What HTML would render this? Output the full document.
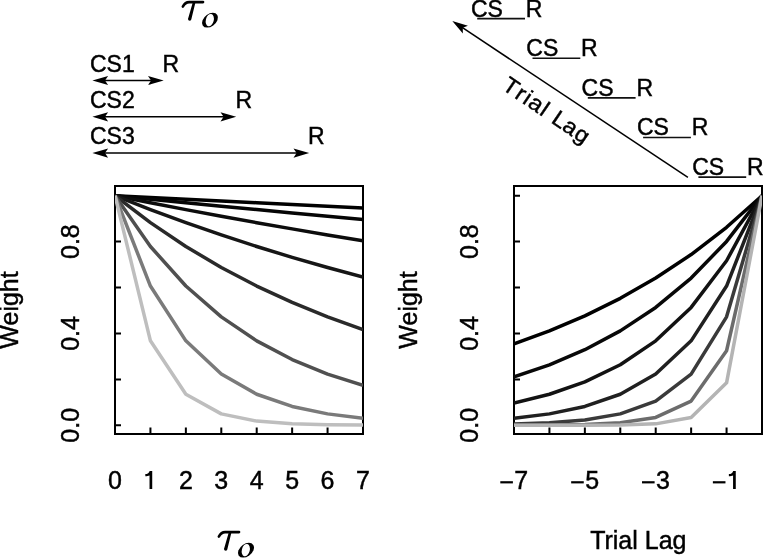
<!DOCTYPE html>
<html><head><meta charset="utf-8"><style>
html,body{margin:0;padding:0;background:#fff;}
body{width:763px;height:558px;overflow:hidden;font-family:"Liberation Sans",sans-serif;}
svg{display:block;will-change:transform;}
</style></head><body>
<svg width="763" height="558" viewBox="0 0 763 558">
<rect width="100%" height="100%" fill="#fff"/>
<rect x="115" y="186" width="248" height="248" fill="none" stroke="#000" stroke-width="2"/>
<path d="M115.00 434 V427.6 M150.43 434 V427.6 M185.86 434 V427.6 M221.29 434 V427.6 M256.71 434 V427.6 M292.14 434 V427.6 M327.57 434 V427.6 M363.00 434 V427.6 M115 425.31 H121.0 M115 379.39 H121.0 M115 333.46 H121.0 M115 287.54 H121.0 M115 241.61 H121.0 M115 195.69 H121.0" stroke="#000" stroke-width="2" fill="none"/>
<rect x="514" y="186" width="248" height="248" fill="none" stroke="#000" stroke-width="2"/>
<path d="M514.00 434 V427.6 M549.43 434 V427.6 M584.86 434 V427.6 M620.29 434 V427.6 M655.71 434 V427.6 M691.14 434 V427.6 M726.57 434 V427.6 M762.00 434 V427.6 M514 425.31 H520.0 M514 379.39 H520.0 M514 333.46 H520.0 M514 287.54 H520.0 M514 241.61 H520.0 M514 195.69 H520.0" stroke="#000" stroke-width="2" fill="none"/>
<defs><clipPath id="cl"><rect x="115" y="186" width="248" height="248"/></clipPath><clipPath id="cr"><rect x="514" y="186" width="248" height="248"/></clipPath></defs>
<g clip-path="url(#cl)">
<polyline points="115.00,195.69 150.43,197.47 185.86,199.25 221.29,201.00 256.71,202.75 292.14,204.48 327.57,206.20 363.00,207.91" fill="none" stroke="#000000" stroke-width="3.5" stroke-linejoin="round"/>
<polyline points="115.00,195.69 150.43,199.25 185.86,202.75 221.29,206.20 256.71,209.60 292.14,212.94 327.57,216.23 363.00,219.48" fill="none" stroke="#050505" stroke-width="3.5" stroke-linejoin="round"/>
<polyline points="115.00,195.69 150.43,202.75 185.86,209.60 221.29,216.23 256.71,222.67 292.14,228.90 327.57,234.95 363.00,240.80" fill="none" stroke="#0c0c0c" stroke-width="3.5" stroke-linejoin="round"/>
<polyline points="115.00,195.69 150.43,209.60 185.86,222.67 221.29,234.95 256.71,246.48 292.14,257.31 327.57,267.49 363.00,277.05" fill="none" stroke="#161616" stroke-width="3.5" stroke-linejoin="round"/>
<polyline points="115.00,195.69 150.43,222.67 185.86,246.48 221.29,267.49 256.71,286.04 292.14,302.40 327.57,316.85 363.00,329.59" fill="none" stroke="#2a2a2a" stroke-width="3.5" stroke-linejoin="round"/>
<polyline points="115.00,195.69 150.43,246.48 185.86,286.04 221.29,316.85 256.71,340.84 292.14,359.52 327.57,374.08 363.00,385.41" fill="none" stroke="#505050" stroke-width="3.5" stroke-linejoin="round"/>
<polyline points="115.00,195.69 150.43,286.04 185.86,340.84 221.29,374.08 256.71,394.24 292.14,406.47 327.57,413.88 363.00,418.38" fill="none" stroke="#7a7a7a" stroke-width="3.5" stroke-linejoin="round"/>
<polyline points="115.00,195.69 150.43,340.84 185.86,394.24 221.29,413.88 256.71,421.11 292.14,423.77 327.57,424.75 363.00,425.11" fill="none" stroke="#bebebe" stroke-width="3.5" stroke-linejoin="round"/>
</g>
<g clip-path="url(#cr)">
<polyline points="514.00,343.91 549.43,330.91 584.86,315.84 620.29,298.35 655.71,278.08 691.14,254.57 726.57,227.30 762.00,195.69" fill="none" stroke="#000000" stroke-width="3.5" stroke-linejoin="round"/>
<polyline points="514.00,376.85 549.43,364.79 584.86,349.72 620.29,330.91 655.71,307.42 691.14,278.08 726.57,241.44 762.00,195.69" fill="none" stroke="#080808" stroke-width="3.5" stroke-linejoin="round"/>
<polyline points="514.00,403.05 549.43,394.24 584.86,381.94 620.29,364.79 655.71,340.84 691.14,307.42 726.57,260.78 762.00,195.69" fill="none" stroke="#121212" stroke-width="3.5" stroke-linejoin="round"/>
<polyline points="514.00,418.38 549.43,413.88 584.86,406.47 620.29,394.24 655.71,374.08 691.14,340.84 726.57,286.04 762.00,195.69" fill="none" stroke="#202020" stroke-width="3.5" stroke-linejoin="round"/>
<polyline points="514.00,424.11 549.43,422.76 584.86,419.91 620.29,413.88 655.71,401.11 691.14,374.08 726.57,316.85 762.00,195.69" fill="none" stroke="#3a3a3a" stroke-width="3.5" stroke-linejoin="round"/>
<polyline points="514.00,425.23 549.43,425.05 584.86,424.49 620.29,422.76 655.71,417.46 691.14,401.11 726.57,350.76 762.00,195.69" fill="none" stroke="#6c6c6c" stroke-width="3.5" stroke-linejoin="round"/>
<polyline points="514.00,425.31 549.43,425.31 584.86,425.27 620.29,425.05 655.71,423.86 691.14,417.46 726.57,382.84 762.00,195.69" fill="none" stroke="#b4b4b4" stroke-width="3.5" stroke-linejoin="round"/>
</g>
<text x="115.00" y="489" font-family="Liberation Sans, sans-serif" stroke="#000" stroke-width="0.45" font-size="25" text-anchor="middle">0</text>
<path d="M145.33 474.0 C147.53 474.0 149.23 472.8 149.63 470.9 L152.23 470.9 L152.23 488.9 L149.53 488.9 L149.53 475.6 C148.43 476.0 146.83 476.3 145.33 476.3 Z" fill="#000"/>
<text x="185.86" y="489" font-family="Liberation Sans, sans-serif" stroke="#000" stroke-width="0.45" font-size="25" text-anchor="middle">2</text>
<text x="221.29" y="489" font-family="Liberation Sans, sans-serif" stroke="#000" stroke-width="0.45" font-size="25" text-anchor="middle">3</text>
<text x="256.71" y="489" font-family="Liberation Sans, sans-serif" stroke="#000" stroke-width="0.45" font-size="25" text-anchor="middle">4</text>
<text x="292.14" y="489" font-family="Liberation Sans, sans-serif" stroke="#000" stroke-width="0.45" font-size="25" text-anchor="middle">5</text>
<text x="327.57" y="489" font-family="Liberation Sans, sans-serif" stroke="#000" stroke-width="0.45" font-size="25" text-anchor="middle">6</text>
<text x="363.00" y="489" font-family="Liberation Sans, sans-serif" stroke="#000" stroke-width="0.45" font-size="25" text-anchor="middle">7</text>
<rect x="500.30" y="481.2" width="12.6" height="2.2" fill="#000"/>
<text x="521.30" y="489" font-family="Liberation Sans, sans-serif" stroke="#000" stroke-width="0.45" font-size="25" text-anchor="middle">7</text>
<rect x="571.16" y="481.2" width="12.6" height="2.2" fill="#000"/>
<text x="592.16" y="489" font-family="Liberation Sans, sans-serif" stroke="#000" stroke-width="0.45" font-size="25" text-anchor="middle">5</text>
<rect x="642.01" y="481.2" width="12.6" height="2.2" fill="#000"/>
<text x="663.01" y="489" font-family="Liberation Sans, sans-serif" stroke="#000" stroke-width="0.45" font-size="25" text-anchor="middle">3</text>
<rect x="712.87" y="481.2" width="12.6" height="2.2" fill="#000"/>
<path d="M728.87 474.0 C731.07 474.0 732.77 472.8 733.17 470.9 L735.77 470.9 L735.77 488.9 L733.07 488.9 L733.07 475.6 C731.97 476.0 730.37 476.3 728.87 476.3 Z" fill="#000"/>
<text transform="translate(79.4,425.31) rotate(-90)" font-family="Liberation Sans, sans-serif" stroke="#000" stroke-width="0.45" font-size="25" text-anchor="middle">0.0</text>
<text transform="translate(79.4,333.46) rotate(-90)" font-family="Liberation Sans, sans-serif" stroke="#000" stroke-width="0.45" font-size="25" text-anchor="middle">0.4</text>
<text transform="translate(79.4,241.61) rotate(-90)" font-family="Liberation Sans, sans-serif" stroke="#000" stroke-width="0.45" font-size="25" text-anchor="middle">0.8</text>
<text transform="translate(17.9,310) rotate(-90)" font-family="Liberation Sans, sans-serif" stroke="#000" stroke-width="0.45" font-size="25" text-anchor="middle">Weight</text>
<text transform="translate(478.4,425.31) rotate(-90)" font-family="Liberation Sans, sans-serif" stroke="#000" stroke-width="0.45" font-size="25" text-anchor="middle">0.0</text>
<text transform="translate(478.4,333.46) rotate(-90)" font-family="Liberation Sans, sans-serif" stroke="#000" stroke-width="0.45" font-size="25" text-anchor="middle">0.4</text>
<text transform="translate(478.4,241.61) rotate(-90)" font-family="Liberation Sans, sans-serif" stroke="#000" stroke-width="0.45" font-size="25" text-anchor="middle">0.8</text>
<text transform="translate(416.9,310) rotate(-90)" font-family="Liberation Sans, sans-serif" stroke="#000" stroke-width="0.45" font-size="25" text-anchor="middle">Weight</text>
<text x="638.3" y="549.3" font-family="Liberation Sans, sans-serif" stroke="#000" stroke-width="0.45" font-size="25" text-anchor="middle">Trial Lag</text>
<g transform="translate(0,0)"><path d="M182.9 6.5 C184 4.3 185.8 2.1 189.2 2.1 L203.0 2.1" fill="none" stroke="#000" stroke-width="2.7" stroke-linecap="round"/><path d="M192.6 3.0 L195.3 3.0 L191.4 19.0 A1.7 1.7 0 0 1 188.0 19.0 Z" fill="#000"/><g transform="translate(210,20.15) skewX(-21)"><circle r="7.45" fill="#000"/></g><ellipse cx="0" cy="0" rx="6.3" ry="3.95" transform="translate(209.8,20.1) rotate(-76)" fill="#fff"/></g>
<g transform="translate(36,530)"><path d="M182.9 6.5 C184 4.3 185.8 2.1 189.2 2.1 L203.0 2.1" fill="none" stroke="#000" stroke-width="2.7" stroke-linecap="round"/><path d="M192.6 3.0 L195.3 3.0 L191.4 19.0 A1.7 1.7 0 0 1 188.0 19.0 Z" fill="#000"/><g transform="translate(210,20.15) skewX(-21)"><circle r="7.45" fill="#000"/></g><ellipse cx="0" cy="0" rx="6.3" ry="3.95" transform="translate(209.8,20.1) rotate(-76)" fill="#fff"/></g>
<text x="90.0" y="71.7" font-family="Liberation Sans, sans-serif" stroke="#000" stroke-width="0.45" font-size="23">CS1</text>
<text x="162.5" y="71.7" font-family="Liberation Sans, sans-serif" stroke="#000" stroke-width="0.45" font-size="23">R</text>
<line x1="100" y1="80.5" x2="155.7" y2="80.5" stroke="#000" stroke-width="1.5"/>
<polygon points="92.40,80.50 108.10,85.10 105.00,80.50 108.10,75.90" fill="#000"/>
<polygon points="163.70,80.50 148.00,75.90 151.10,80.50 148.00,85.10" fill="#000"/>
<text x="90.0" y="107.9" font-family="Liberation Sans, sans-serif" stroke="#000" stroke-width="0.45" font-size="23">CS2</text>
<text x="235.4" y="107.9" font-family="Liberation Sans, sans-serif" stroke="#000" stroke-width="0.45" font-size="23">R</text>
<line x1="100" y1="116.8" x2="228.2" y2="116.8" stroke="#000" stroke-width="1.5"/>
<polygon points="92.40,116.80 108.10,121.40 105.00,116.80 108.10,112.20" fill="#000"/>
<polygon points="236.20,116.80 220.50,112.20 223.60,116.80 220.50,121.40" fill="#000"/>
<text x="90.0" y="144.0" font-family="Liberation Sans, sans-serif" stroke="#000" stroke-width="0.45" font-size="23">CS3</text>
<text x="307.9" y="144.0" font-family="Liberation Sans, sans-serif" stroke="#000" stroke-width="0.45" font-size="23">R</text>
<line x1="100" y1="153.1" x2="301.2" y2="153.1" stroke="#000" stroke-width="1.5"/>
<polygon points="92.40,153.10 108.10,157.70 105.00,153.10 108.10,148.50" fill="#000"/>
<polygon points="309.20,153.10 293.50,148.50 296.60,153.10 293.50,157.70" fill="#000"/>
<text x="471.00" y="16.60" font-family="Liberation Sans, sans-serif" stroke="#000" stroke-width="0.45" font-size="23">CS</text>
<text x="525.80" y="16.60" font-family="Liberation Sans, sans-serif" stroke="#000" stroke-width="0.45" font-size="23">R</text>
<line x1="477.20" y1="18.60" x2="525.00" y2="18.60" stroke="#111" stroke-width="1.6"/>
<text x="526.30" y="56.22" font-family="Liberation Sans, sans-serif" stroke="#000" stroke-width="0.45" font-size="23">CS</text>
<text x="581.10" y="56.22" font-family="Liberation Sans, sans-serif" stroke="#000" stroke-width="0.45" font-size="23">R</text>
<line x1="532.50" y1="58.22" x2="580.30" y2="58.22" stroke="#111" stroke-width="1.6"/>
<text x="581.60" y="95.84" font-family="Liberation Sans, sans-serif" stroke="#000" stroke-width="0.45" font-size="23">CS</text>
<text x="636.40" y="95.84" font-family="Liberation Sans, sans-serif" stroke="#000" stroke-width="0.45" font-size="23">R</text>
<line x1="587.80" y1="97.84" x2="635.60" y2="97.84" stroke="#111" stroke-width="1.6"/>
<text x="636.90" y="135.46" font-family="Liberation Sans, sans-serif" stroke="#000" stroke-width="0.45" font-size="23">CS</text>
<text x="691.70" y="135.46" font-family="Liberation Sans, sans-serif" stroke="#000" stroke-width="0.45" font-size="23">R</text>
<line x1="643.10" y1="137.46" x2="690.90" y2="137.46" stroke="#111" stroke-width="1.6"/>
<text x="692.20" y="175.08" font-family="Liberation Sans, sans-serif" stroke="#000" stroke-width="0.45" font-size="23">CS</text>
<text x="747.00" y="175.08" font-family="Liberation Sans, sans-serif" stroke="#000" stroke-width="0.45" font-size="23">R</text>
<line x1="698.40" y1="177.08" x2="746.20" y2="177.08" stroke="#111" stroke-width="1.6"/>
<line x1="687.9" y1="177.4" x2="460.63" y2="26.43" stroke="#000" stroke-width="1.5"/>
<polygon points="452.30,20.90 462.83,33.42 462.80,27.87 467.92,25.76" fill="#000"/>
<text transform="translate(501.1,88.6) rotate(34.16) scale(1.05,1)" font-family="Liberation Sans, sans-serif" stroke="#000" stroke-width="0.45" font-size="22.3" x="-0.01 14.62 23.60 29.54 42.93 49.22 56.57 68.96 82.48" y="0">Trial Lag</text>
</svg>
</body></html>
